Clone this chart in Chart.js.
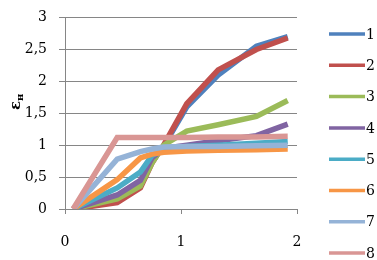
<!DOCTYPE html>
<html>
<head>
<meta charset="utf-8">
<script src="https://cdn.jsdelivr.net/npm/chart.js@4"></script>
<style>
html,body{margin:0;padding:0;background:#fff;}
#wrap{width:377px;height:260px;position:relative;}
</style>
</head>
<body>
<div id="wrap"><canvas id="c" width="377" height="260"></canvas></div>
<script>
// ---- data ----
const seriesNames = ['1','2','3','4','5','6','7','8'];
const xValues = [0.07, 0.45, 0.65, 0.75, 0.85, 1.05, 1.32, 1.65, 1.92];
const s1 = [0, 0.18, 0.40, 0.78, 0.98, 1.60, 2.10, 2.55, 2.70];
const s2 = [0, 0.10, 0.33, 0.72, 1.00, 1.65, 2.18, 2.50, 2.68];
const s3 = [0, 0.16, 0.36, 0.72, 1.00, 1.22, 1.32, 1.45, 1.70];
const s4 = [0, 0.22, 0.45, 0.80, 0.95, 1.00, 1.07, 1.15, 1.33];
const s5 = [0, 0.33, 0.58, 0.84, 0.93, 0.98, 1.00, 1.03, 1.06];
const s6 = [0, 0.46, 0.80, 0.86, 0.89, 0.91, 0.92, 0.93, 0.94];
const s7 = [0, 0.78, 0.90, 0.94, 0.97, 0.98, 0.98, 0.99, 1.00];
const s8 = [0, 1.12, 1.12, 1.12, 1.12, 1.12, 1.13, 1.13, 1.14];
const seriesValues = [s1, s2, s3, s4, s5, s6, s7, s8];
const xTicks = [0, 1, 2];
const yTicks = [0, 0.5, 1, 1.5, 2, 2.5, 3];
const yTitle = 'ε';
const yTitleSub = 'н';

const colors = ['#4F81BD','#C0504D','#9BBB59','#8064A2','#4BACC6','#F79646','#95B3D7','#D99694'];
const FONT = 'DejaVu Serif';

const datasets = seriesValues.map((vals, i) => ({
  label: seriesNames[i],
  data: vals.map((y, j) => ({x: xValues[j], y: y})),
  showLine: true,
  borderColor: colors[i],
  backgroundColor: colors[i],
  borderWidth: 5.5,
  pointRadius: 0,
  tension: 0,
  order: seriesValues.length - i
}));

const legendPlugin = {
  id: 'customLegend',
  afterDraw(chart) {
    const ctx = chart.ctx;
    ctx.save();
    ctx.font = '14px "' + FONT + '"';
    ctx.textBaseline = 'middle';
    ctx.textAlign = 'left';
    chart.data.datasets.forEach((ds, i) => {
      const y = 34 + i * 31.3;
      ctx.strokeStyle = ds.borderColor;
      ctx.lineWidth = 3.5;
      ctx.lineCap = 'butt';
      ctx.beginPath();
      ctx.moveTo(329, y);
      ctx.lineTo(365, y);
      ctx.stroke();
      ctx.fillStyle = '#000';
      ctx.fillText(ds.label, 366, y + 1);
    });
    ctx.restore();
  }
};

const yTitlePlugin = {
  id: 'yTitle',
  afterDraw(chart) {
    const ctx = chart.ctx;
    ctx.save();
    ctx.translate(20, 110);
    ctx.rotate(-Math.PI / 2);
    ctx.fillStyle = '#000';
    ctx.textBaseline = 'alphabetic';
    ctx.textAlign = 'left';
    ctx.font = 'bold 15px "' + FONT + '"';
    ctx.fillText(yTitle, 0, 0);
    const w = ctx.measureText(yTitle).width;
    ctx.font = 'bold 10px "' + FONT + '"';
    ctx.fillText(yTitleSub, w, 3);
    ctx.restore();
  }
};

new Chart(document.getElementById('c'), {
  type: 'scatter',
  data: { datasets },
  plugins: [legendPlugin, yTitlePlugin],
  options: {
    responsive: false,
    animation: false,
    devicePixelRatio: 1,
    layout: { padding: { left: 0, right: 80, top: 6, bottom: 0 } },
    plugins: { legend: { display: false }, tooltip: { enabled: false } },
    scales: {
      x: {
        type: 'linear',
        min: 0, max: 2,
        afterBuildTicks: s => { s.ticks = xTicks.map(v => ({value: v})); },
        afterFit: s => { s.height = 51; },
        ticks: { color: '#000', font: { family: FONT, size: 14 }, padding: 20, maxRotation: 0 },
        grid: { drawOnChartArea: false, drawTicks: true, tickLength: 5, color: '#868686' },
        border: { color: '#868686' }
      },
      y: {
        min: 0, max: 3,
        afterBuildTicks: s => { s.ticks = yTicks.map(v => ({value: v})); },
        afterFit: s => { s.width = 65; },
        ticks: {
          color: '#000', font: { family: FONT, size: 14, lineHeight: 0.8 }, padding: 12,
          callback: v => String(v).replace('.', ',')
        },
        grid: { color: '#868686', tickLength: 6 },
        border: { color: '#868686' }
      }
    }
  }
});
</script>
</body>
</html>
